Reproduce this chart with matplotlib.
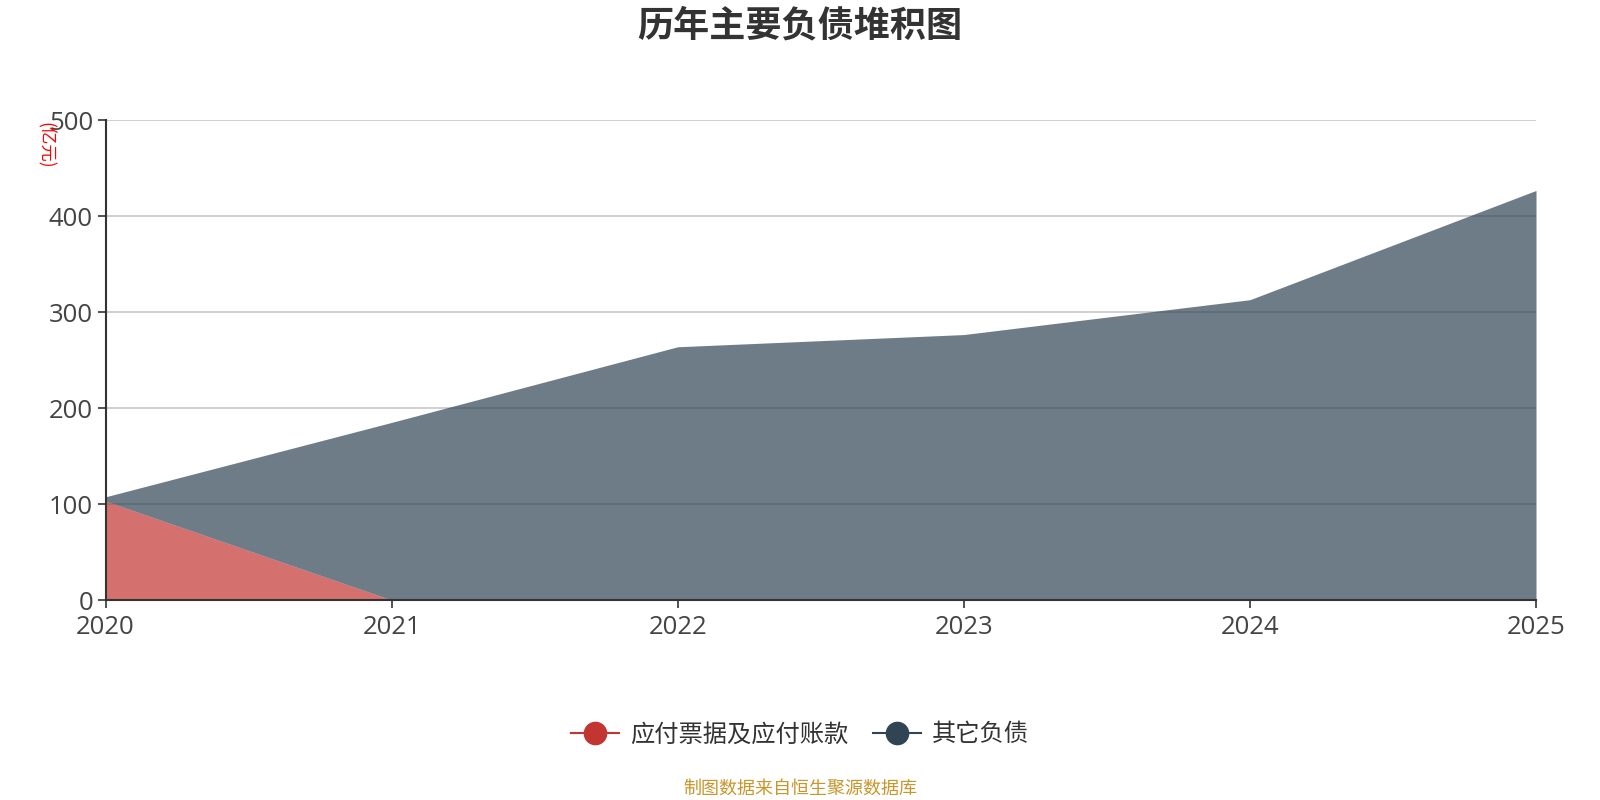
import matplotlib
matplotlib.use("Agg")
import matplotlib.pyplot as plt
from matplotlib.lines import Line2D
import numpy as np

plt.rcParams['font.family'] = ['Noto Sans CJK SC', 'DejaVu Sans']

years = ['2020', '2021', '2022', '2023', '2024', '2025']
payables = [103.0, 0.0, 0.3, 0.5, 0.2, 0.0]
others = [4.5, 185.0, 263.5, 276.0, 312.6, 426.6]
series_names = ['应付票据及应付账款', '其它负债']
colors = ['#c23531', '#2f4554']
yticks = [0, 100, 200, 300, 400, 500]

fig = plt.figure(figsize=(16, 8), dpi=100)
ax = fig.add_axes([0.066, 0.25, 0.894, 0.60])

x = np.arange(len(years))
p = np.array(payables)
o = np.array(others)
ax.fill_between(x, 0, p, color=colors[0], alpha=0.7, linewidth=0, zorder=2)
ax.fill_between(x, p, p + o, color=colors[1], alpha=0.7, linewidth=0, zorder=2)

ax.set_xlim(0, len(years) - 1)
ax.set_ylim(0, 500)
ax.set_xticks(x)
ax.set_xticklabels(years)
ax.set_yticks(yticks)
ax.set_axisbelow(True)
ax.grid(axis='y', color='#c8c8c8', linewidth=1.2, zorder=1)
for s in ['top', 'right']:
    ax.spines[s].set_visible(False)
for s in ['left', 'bottom']:
    ax.spines[s].set_color('#333333')
    ax.spines[s].set_linewidth(1.5)
    ax.spines[s].set_zorder(5)
ax.tick_params(axis='both', colors='#333333', labelcolor='#444444', labelsize=18.5,
               length=6, width=1.2)
for lab in ax.get_xticklabels() + ax.get_yticklabels():
    lab.set_family(['Open Sans', 'Noto Sans CJK SC'])
ax.tick_params(axis='y', pad=3)
ax.tick_params(axis='x', pad=5)

fig.text(0.5, 0.967, '历年主要负债堆积图', ha='center', va='center',
         fontsize=26, fontweight='bold', color='#333333')
fig.text(0.028, 0.818, '(亿元)', rotation=-90, ha='center', va='center',
         fontsize=12.5, color='red')

handles = [Line2D([0], [0], color=c, marker='o', markersize=16, linewidth=1.5)
           for c in colors]
fig.legend(handles, series_names, loc='center', bbox_to_anchor=(0.5, 0.082),
           ncol=2, frameon=False, fontsize=17.5, handlelength=2.0,
           columnspacing=1.0, handletextpad=0.45, labelcolor='#333333')

fig.text(0.5, 0.014, '制图数据来自恒生聚源数据库', ha='center', va='center',
         fontsize=13, color='#c8962a')

fig.savefig('out.png', dpi=100)
